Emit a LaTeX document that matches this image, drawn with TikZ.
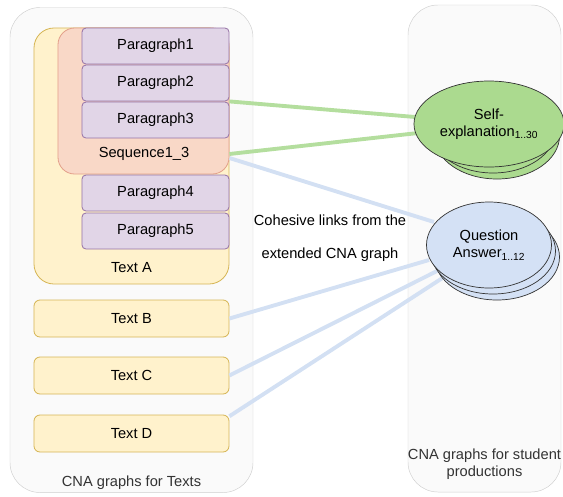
\documentclass[tikz,border=0pt]{standalone}
\usepackage{fontspec}
\setmainfont{Liberation Sans}
\usetikzlibrary{
    shapes.geometric,
    positioning,
    calc
}
\definecolor{grpfill}{HTML}{FAFAFA}
\definecolor{grpline}{HTML}{CFCFCF}
\definecolor{txtfill}{HTML}{FFF2CC}
\definecolor{txtline}{HTML}{D6B656}
\definecolor{seqfill}{HTML}{F9D8C7}
\definecolor{seqline}{HTML}{E3A08A}
\definecolor{parafill}{HTML}{E1D5E7}
\definecolor{paraline}{HTML}{9673A6}
\definecolor{sefill}{HTML}{ABDA8F}
\definecolor{qafill}{HTML}{D4E1F5}
\definecolor{glinkcol}{HTML}{B4DE9E}
\definecolor{blinkcol}{HTML}{D3E0F3}

\begin{document}
\begin{tikzpicture}[
        x=0.03cm, y=-0.03cm,
        font=\fontsize{12.5}{15}\selectfont,
        grp/.style={rectangle, draw=grpline, fill=grpfill, rounded corners=0.9cm, minimum height=14.55cm},
        txtbox/.style={rectangle, draw=txtline, fill=txtfill, line width=0.7pt, rounded corners=0.18cm, minimum width=5.85cm, minimum height=1.11cm},
        para/.style={rectangle, draw=paraline, fill=parafill, line width=0.7pt, rounded corners=0.12cm, minimum width=4.41cm, minimum height=1.08cm},
        prod/.style={ellipse, draw=black!80, line width=0.6pt, minimum width=3.75cm, minimum height=2.58cm, align=center},
        glink/.style={line width=3.3pt, glinkcol},
        blink/.style={line width=3.3pt, blinkcol}
    ]
        \useasboundingbox (0,0) rectangle (563,496);

        % groups
        \node[grp, minimum width=7.29cm] (texts) at (131.5,250) {};
        \node[grp, minimum width=4.59cm, minimum height=14.61cm] (studs) at (484.5,248.5) {};
        \node[text=black!80] (textslbl) at (131.5,483) {CNA graphs for Texts};
        \node[text=black!80, align=center] (studslbl) at (484.5,464) {CNA graphs for student\\productions};

        % Text A with its sequence and paragraphs
        \node[txtbox, rounded corners=0.6cm, minimum height=7.68cm] (ta) at (131.5,156) {};
        \node (talbl) at (131.5,268) {Text A};
        \node[rectangle, draw=seqline, fill=seqfill, line width=0.7pt, rounded corners=0.5cm, minimum width=5.13cm, minimum height=4.38cm] (seq) at (143.5,101) {};
        \node (seqlbl) at (144,154) {Sequence1\_3};
        \node[para] (p1) at (155.5,46) {Paragraph1};
        \node[para] (p2) at (155.5,83) {Paragraph2};
        \node[para] (p3) at (155.5,120) {Paragraph3};
        \node[para] (p4) at (155.5,193) {Paragraph4};
        \node[para] (p5) at (155.5,231) {Paragraph5};

        \node[txtbox] (tb) at (131.5,318.5) {Text B};
        \node[txtbox] (tc) at (131.5,375.5) {Text C};
        \node[txtbox] (td) at (131.5,433.5) {Text D};

        \node (cohlbl) at (330,220) {Cohesive links from the};
        \node (extlbl) at (330,255) {extended CNA graph};

        % links
        \coordinate (seqout) at (seq.east |- seqlbl);
        \draw[glink] (p2.south east) -- (427,118) coordinate (segin1);
        \draw[glink] (seqout) -- (427,132) coordinate (segin2);
        \draw[blink] ($(seqout)+(0,4)$) -- (434,222) coordinate (qain1);
        \draw[blink] (tb.east) -- (429,260) coordinate (qain2);
        \draw[blink] (tc.east) -- (437,271) coordinate (qain3);
        \draw[blink] (td.10) -- (444,277) coordinate (qain4);

        % student productions
        \node[prod, fill=sefill] (se3) at (497,136) {};
        \node[prod, fill=sefill] (se2) at (493,130) {};
        \node[prod, fill=sefill] (se) at (489,124) {Self-\\explanation\textsubscript{1..30}};
        \node[prod, fill=qafill] (qa3) at (497,257) {};
        \node[prod, fill=qafill] (qa2) at (493,251) {};
        \node[prod, fill=qafill] (qa) at (489,245) {Question\\Answer\textsubscript{1..12}};
    \end{tikzpicture}
\end{document}
